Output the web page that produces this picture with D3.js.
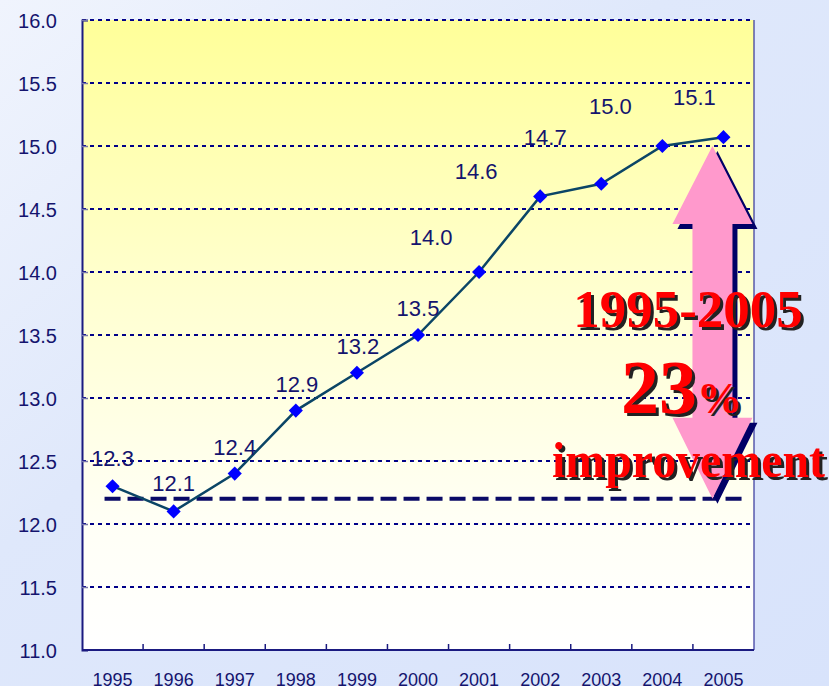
<!DOCTYPE html>
<html>
<head>
<meta charset="utf-8">
<script src="https://cdn.jsdelivr.net/npm/d3@7/dist/d3.min.js"></script>
<style>
  html, body { margin: 0; padding: 0; }
  body { width: 829px; height: 686px; overflow: hidden; }
  .tick { font-family: "Liberation Sans", Arial, sans-serif; fill: #14146e; }
  .big { font-family: "Liberation Serif", "Times New Roman", serif; font-weight: bold; }
</style>
</head>
<body>
<script>
// Data
var years = ["1995", "1996", "1997", "1998", "1999", "2000", "2001", "2002", "2003", "2004", "2005"];
var values = [12.3, 12.1, 12.4, 12.9, 13.2, 13.5, 14.0, 14.6, 14.7, 15.0, 15.07];
var yTicks = [11.0, 11.5, 12.0, 12.5, 13.0, 13.5, 14.0, 14.5, 15.0, 15.5, 16.0];
var baseValue = 12.2;

// Label placement (pixels relative to the point)
var labelDx = [0, 0, 0, 1, 1, 0, -48, -64, -56, -52, -29];
var labelDy = [-28, -28, -27, -27, -27, -27, -35, -25, -47, -40, -40];

//Settings
var width = 829;
var height = 686;
var plotLeft = 82, plotRight = 754, plotTop = 20, plotBottom = 650;
var navy = "#14146e";

var svg = d3.select("body").append("svg").attr("width", width).attr("height", height);
var defs = svg.append("defs");

//Background gradients
var bg = defs.append("linearGradient").attr("id", "bg").attr("x1", 0).attr("y1", 0).attr("x2", 1).attr("y2", 1);
bg.append("stop").attr("offset", "0%").attr("stop-color", "#f0f4fd");
bg.append("stop").attr("offset", "40%").attr("stop-color", "#dfe8fb");
bg.append("stop").attr("offset", "100%").attr("stop-color", "#d8e3fb");
svg.append("rect").attr("width", width).attr("height", height).attr("fill", "url(#bg)");

var pg = defs.append("linearGradient").attr("id", "plotbg").attr("x1", 0).attr("y1", 0).attr("x2", 0).attr("y2", 1);
pg.append("stop").attr("offset", "0%").attr("stop-color", "#ffff99");
pg.append("stop").attr("offset", "45%").attr("stop-color", "#ffffd2");
pg.append("stop").attr("offset", "80%").attr("stop-color", "#fffff6");
pg.append("stop").attr("offset", "100%").attr("stop-color", "#ffffff");

//Scales
var x = d3.scaleBand().domain(years).range([plotLeft, plotRight]);
var y = d3.scaleLinear().domain([11, 16]).range([plotBottom, plotTop]);
var cx = function(d) { return x(d) + x.bandwidth() / 2; };

//Plot area
svg.append("rect").attr("x", plotLeft).attr("y", plotTop).attr("width", plotRight - plotLeft).attr("height", plotBottom - plotTop).attr("fill", "url(#plotbg)");

//Grid
svg.append("g").selectAll("line").data(yTicks.filter(function(d) { return d > 11; })).join("line")
    .attr("x1", plotLeft).attr("x2", plotRight)
    .attr("y1", function(d) { return y(d); }).attr("y2", function(d) { return y(d); })
    .attr("stroke", "#000088").attr("stroke-width", 2).attr("stroke-dasharray", "4,4");

//Right border
svg.append("line").attr("x1", plotRight).attr("x2", plotRight).attr("y1", plotTop).attr("y2", plotBottom).attr("stroke", "#33339a").attr("stroke-width", 1.2);

//Axes
var yAxis = d3.axisLeft(y).tickValues(yTicks).tickFormat(d3.format(".1f")).tickSize(-6).tickPadding(25);
var gy = svg.append("g").attr("transform", "translate(" + plotLeft + ",0)").call(yAxis);
gy.select(".domain").attr("stroke", "#1a1a80").attr("stroke-width", 2);
gy.selectAll(".tick line").attr("stroke", "#7777aa").attr("stroke-width", 1.5);
gy.selectAll(".tick text").attr("class", "tick").attr("font-size", 20).attr("dy", "0.36em").attr("fill", navy);

var gx = svg.append("g").attr("transform", "translate(0," + plotBottom + ")");
gx.append("line").attr("x1", plotLeft).attr("x2", plotRight).attr("stroke", "#1a1a80").attr("stroke-width", 2);
gx.selectAll("line.t").data(years.slice(1)).join("line").attr("class", "t")
    .attr("x1", function(d) { return x(d); }).attr("x2", function(d) { return x(d); })
    .attr("y1", 0).attr("y2", -6).attr("stroke", "#1a1a80").attr("stroke-width", 1.5);
gx.selectAll("text").data(years).join("text").attr("class", "tick")
    .attr("x", cx).attr("y", 36).attr("text-anchor", "middle").attr("font-size", 18).text(function(d) { return d; });

//Baseline dashed
svg.append("line").attr("x1", cx(years[0]) - 8).attr("x2", cx(years[years.length - 1]) + 21)
    .attr("y1", y(baseValue)).attr("y2", y(baseValue))
    .attr("stroke", "#0a0a66").attr("stroke-width", 4).attr("stroke-dasharray", "16,7");

//Line
var line = d3.line().x(function(d, i) { return cx(years[i]); }).y(function(d) { return y(d); });
svg.append("path").datum(values).attr("d", line).attr("fill", "none").attr("stroke", "#0b4566").attr("stroke-width", 2.5);

//Markers
svg.append("g").selectAll("path").data(values).join("path")
    .attr("d", d3.symbol().type(d3.symbolSquare).size(100))
    .attr("transform", function(d, i) { return "translate(" + cx(years[i]) + "," + y(d) + ") rotate(45)"; })
    .attr("fill", "#0000ff");

//Value labels
svg.append("g").selectAll("text").data(values).join("text").attr("class", "tick")
    .attr("x", function(d, i) { return cx(years[i]) + labelDx[i]; })
    .attr("y", function(d, i) { return y(d) + labelDy[i] + 8; })
    .attr("text-anchor", "middle").attr("font-size", 22)
    .text(function(d) { return d.toFixed(1); });

//Double arrow
var ax = cx(years[years.length - 1]) - 11;
var yTop = y(values[9]);
var yBot = y(baseValue);
var headH = 78, headW = 40, shaftW = 20;
function arrowPath(dx, dy) {
    var pts = [
        [ax, yTop], [ax + headW, yTop + headH], [ax + shaftW, yTop + headH],
        [ax + shaftW, yBot - headH - 3], [ax + headW, yBot - headH - 3], [ax, yBot],
        [ax - headW, yBot - headH - 3], [ax - shaftW, yBot - headH - 3],
        [ax - shaftW, yTop + headH], [ax - headW, yTop + headH]
    ];
    return "M" + pts.map(function(p) { return (p[0] + dx) + "," + (p[1] + dy); }).join("L") + "Z";
}
svg.append("path").attr("d", arrowPath(5, 5)).attr("fill", "#000066");
svg.append("path").attr("d", arrowPath(0, 0)).attr("fill", "#ff99cc");

//Annotation text
var shadows = [[3, 3, "#222222"], [0, 0, "#ff0000"]];
shadows.forEach(function(s) {
    svg.append("text").attr("class", "big").attr("x", 688 + s[0]).attr("y", 327 + s[1])
        .attr("font-size", 53).attr("text-anchor", "middle").attr("fill", s[2]).text("1995-2005");
});
shadows.forEach(function(s) {
    var t = svg.append("text").attr("class", "big").attr("x", 621 + s[0]).attr("y", 413 + s[1]).attr("fill", s[2]);
    t.append("tspan").attr("font-size", 76).text("23");
    t.append("tspan").attr("font-size", 45).text("%");
});
shadows.forEach(function(s) {
    svg.append("text").attr("class", "big").attr("x", 552 + s[0]).attr("y", 477 + s[1]).attr("fill", s[2])
        .attr("font-size", 50).attr("textLength", 273).attr("lengthAdjust", "spacingAndGlyphs").text("improvement");
});
</script>
</body>
</html>
